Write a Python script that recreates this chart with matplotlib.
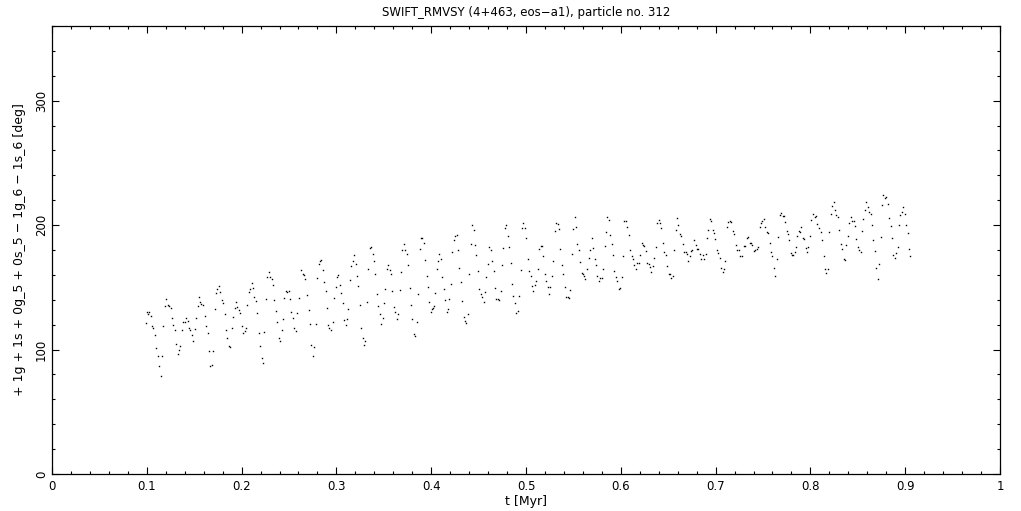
"""Resonant angle of a SWIFT_RMVSY test particle plotted against time."""

from __future__ import annotations

import matplotlib

matplotlib.use("Agg")

import matplotlib.pyplot as plt
from matplotlib.ticker import MultipleLocator


TITLE = "SWIFT_RMVSY (4+463, eos\u2212a1), particle no. 312"
X_LABEL = "t [Myr]"
Y_LABEL = "+ 1g + 1s + 0g_5 + 0s_5 \u2212 1g_6 \u2212 1s_6 [deg]"

# time samples [Myr]
t_myr = [
    0.0988, 0.0999, 0.1016, 0.1026, 0.1044, 0.1058, 0.1069, 0.1090, 0.1100, 0.1121,
    0.1132, 0.1153, 0.1164, 0.1174, 0.1195, 0.1206, 0.1227, 0.1237, 0.1258, 0.1269,
    0.1280, 0.1301, 0.1311, 0.1332, 0.1343, 0.1353, 0.1375, 0.1385, 0.1406, 0.1417,
    0.1438, 0.1448, 0.1459, 0.1480, 0.1491, 0.1512, 0.1522, 0.1543, 0.1554, 0.1564,
    0.1575, 0.1596, 0.1617, 0.1628, 0.1649, 0.1659, 0.1670, 0.1691, 0.1702, 0.1723,
    0.1733, 0.1744, 0.1765, 0.1775, 0.1796, 0.1807, 0.1828, 0.1839, 0.1849, 0.1870,
    0.1881, 0.1902, 0.1913, 0.1934, 0.1944, 0.1955, 0.1976, 0.1986, 0.2008, 0.2018,
    0.2039, 0.2050, 0.2060, 0.2081, 0.2092, 0.2113, 0.2123, 0.2134, 0.2155, 0.2166,
    0.2187, 0.2197, 0.2218, 0.2229, 0.2240, 0.2261, 0.2271, 0.2292, 0.2303, 0.2324,
    0.2334, 0.2345, 0.2366, 0.2377, 0.2398, 0.2408, 0.2429, 0.2440, 0.2451, 0.2472,
    0.2482, 0.2503, 0.2514, 0.2524, 0.2546, 0.2556, 0.2577, 0.2588, 0.2609, 0.2630,
    0.2651, 0.2662, 0.2672, 0.2693, 0.2714, 0.2725, 0.2735, 0.2756, 0.2767, 0.2788,
    0.2799, 0.2820, 0.2830, 0.2841, 0.2862, 0.2872, 0.2894, 0.2904, 0.2915, 0.2925,
    0.2946, 0.2967, 0.2978, 0.2999, 0.3010, 0.3020, 0.3041, 0.3052, 0.3073, 0.3083,
    0.3105, 0.3115, 0.3126, 0.3147, 0.3157, 0.3178, 0.3189, 0.3210, 0.3221, 0.3231,
    0.3252, 0.3263, 0.3284, 0.3294, 0.3305, 0.3326, 0.3337, 0.3358, 0.3368, 0.3389,
    0.3400, 0.3410, 0.3432, 0.3442, 0.3463, 0.3474, 0.3495, 0.3505, 0.3516, 0.3537,
    0.3548, 0.3569, 0.3579, 0.3590, 0.3611, 0.3621, 0.3642, 0.3653, 0.3674, 0.3685,
    0.3695, 0.3716, 0.3727, 0.3748, 0.3758, 0.3780, 0.3790, 0.3801, 0.3822, 0.3832,
    0.3853, 0.3864, 0.3885, 0.3896, 0.3906, 0.3927, 0.3938, 0.3959, 0.3970, 0.3980,
    0.4001, 0.4012, 0.4022, 0.4033, 0.4043, 0.4064, 0.4075, 0.4085, 0.4107, 0.4117,
    0.4138, 0.4149, 0.4170, 0.4180, 0.4191, 0.4212, 0.4223, 0.4244, 0.4254, 0.4275,
    0.4286, 0.4296, 0.4318, 0.4328, 0.4349, 0.4360, 0.4370, 0.4392, 0.4402, 0.4423,
    0.4434, 0.4455, 0.4465, 0.4476, 0.4497, 0.4507, 0.4529, 0.4539, 0.4560, 0.4571,
    0.4581, 0.4602, 0.4613, 0.4634, 0.4645, 0.4666, 0.4676, 0.4687, 0.4708, 0.4718,
    0.4740, 0.4750, 0.4761, 0.4782, 0.4792, 0.4813, 0.4824, 0.4845, 0.4856, 0.4866,
    0.4887, 0.4898, 0.4919, 0.4929, 0.4951, 0.4961, 0.4972, 0.4993, 0.5003, 0.5024,
    0.5035, 0.5056, 0.5067, 0.5077, 0.5098, 0.5109, 0.5130, 0.5141, 0.5162, 0.5172,
    0.5183, 0.5204, 0.5214, 0.5235, 0.5246, 0.5256, 0.5277, 0.5288, 0.5309, 0.5320,
    0.5341, 0.5351, 0.5362, 0.5383, 0.5394, 0.5415, 0.5425, 0.5446, 0.5457, 0.5467,
    0.5489, 0.5499, 0.5520, 0.5531, 0.5541, 0.5562, 0.5573, 0.5594, 0.5604, 0.5615,
    0.5626, 0.5647, 0.5668, 0.5678, 0.5699, 0.5710, 0.5731, 0.5742, 0.5752, 0.5773,
    0.5784, 0.5805, 0.5816, 0.5837, 0.5847, 0.5858, 0.5879, 0.5889, 0.5911, 0.5921,
    0.5932, 0.5953, 0.5963, 0.5984, 0.5995, 0.6016, 0.6027, 0.6037, 0.6058, 0.6069,
    0.6090, 0.6100, 0.6121, 0.6132, 0.6143, 0.6164, 0.6174, 0.6195, 0.6206, 0.6227,
    0.6237, 0.6248, 0.6269, 0.6280, 0.6301, 0.6311, 0.6322, 0.6343, 0.6353, 0.6375,
    0.6385, 0.6406, 0.6417, 0.6427, 0.6449, 0.6459, 0.6480, 0.6491, 0.6512, 0.6522,
    0.6533, 0.6554, 0.6565, 0.6586, 0.6596, 0.6607, 0.6628, 0.6638, 0.6660, 0.6670,
    0.6691, 0.6702, 0.6712, 0.6733, 0.6744, 0.6754, 0.6775, 0.6797, 0.6807, 0.6818,
    0.6839, 0.6849, 0.6870, 0.6881, 0.6902, 0.6913, 0.6923, 0.6944, 0.6955, 0.6976,
    0.6986, 0.6997, 0.7018, 0.7029, 0.7050, 0.7060, 0.7081, 0.7092, 0.7103, 0.7124,
    0.7134, 0.7155, 0.7166, 0.7187, 0.7197, 0.7218, 0.7229, 0.7250, 0.7261, 0.7282,
    0.7303, 0.7314, 0.7335, 0.7345, 0.7366, 0.7377, 0.7387, 0.7408, 0.7419, 0.7440,
    0.7451, 0.7472, 0.7482, 0.7493, 0.7514, 0.7524, 0.7545, 0.7556, 0.7577, 0.7588,
    0.7598, 0.7619, 0.7630, 0.7651, 0.7661, 0.7682, 0.7693, 0.7714, 0.7725, 0.7735,
    0.7756, 0.7767, 0.7778, 0.7799, 0.7809, 0.7820, 0.7841, 0.7851, 0.7862, 0.7883,
    0.7894, 0.7904, 0.7925, 0.7936, 0.7957, 0.7967, 0.7978, 0.7999, 0.8010, 0.8031,
    0.8052, 0.8062, 0.8073, 0.8094, 0.8115, 0.8126, 0.8147, 0.8157, 0.8168, 0.8189,
    0.8200, 0.8221, 0.8231, 0.8252, 0.8263, 0.8273, 0.8294, 0.8305, 0.8326, 0.8337,
    0.8358, 0.8368, 0.8379, 0.8400, 0.8410, 0.8432, 0.8442, 0.8463, 0.8474, 0.8484,
    0.8506, 0.8516, 0.8537, 0.8548, 0.8558, 0.8579, 0.8590, 0.8611, 0.8621, 0.8643,
    0.8653, 0.8664, 0.8685, 0.8695, 0.8716, 0.8727, 0.8748, 0.8758, 0.8769, 0.8790,
    0.8801, 0.8822, 0.8832, 0.8854, 0.8864, 0.8875, 0.8896, 0.8906, 0.8927, 0.8938,
    0.8948, 0.8970, 0.8980, 0.9001, 0.9012, 0.9033, 0.9043, 0.9054,
]

# resonant angle [deg]
angle_deg = [
    121.0, 129.8, 128.2, 130.4, 126.6, 118.8, 117.5, 111.9, 101.4, 94.9,
    86.9, 78.8, 94.9, 119.1, 135.2, 140.9, 136.0, 135.2, 133.6, 125.6,
    119.9, 115.9, 104.6, 96.5, 99.8, 103.0, 115.9, 122.3, 122.3, 125.6,
    123.1, 117.5, 115.9, 111.9, 107.0, 116.7, 125.6, 135.2, 142.5, 138.5,
    136.9, 136.0, 127.2, 119.1, 113.5, 99.0, 86.9, 87.7, 99.0, 132.8,
    145.7, 148.9, 151.4, 146.5, 140.1, 137.7, 128.8, 115.9, 109.4, 103.0,
    102.2, 117.5, 126.4, 133.6, 138.5, 134.4, 132.0, 129.6, 119.1, 113.5,
    115.1, 117.5, 136.0, 146.5, 148.9, 153.8, 149.8, 142.5, 139.3, 129.6,
    113.5, 103.0, 93.3, 89.3, 114.3, 140.9, 158.6, 162.7, 158.6, 157.0,
    152.2, 140.1, 131.2, 122.3, 109.4, 107.0, 115.9, 124.8, 141.7, 147.3,
    146.5, 147.3, 140.9, 130.4, 125.6, 117.5, 115.1, 129.6, 141.7, 164.3,
    161.0, 160.2, 157.0, 144.1, 132.0, 120.7, 103.8, 94.9, 102.2, 120.7,
    157.8, 169.1, 171.5, 172.3, 164.3, 154.6, 147.3, 133.6, 119.9, 117.5,
    115.9, 122.3, 141.7, 150.6, 158.6, 160.2, 152.2, 145.7, 137.7, 124.0,
    119.9, 124.8, 132.8, 156.2, 167.5, 171.5, 175.6, 169.1, 159.4, 151.4,
    136.0, 117.5, 109.4, 103.8, 107.0, 138.5, 165.1, 182.0, 182.8, 176.4,
    171.5, 161.0, 144.9, 135.2, 128.8, 120.7, 125.6, 137.7, 148.9, 165.1,
    168.3, 164.3, 161.0, 147.3, 134.4, 130.4, 124.8, 128.8, 148.1, 162.7,
    179.6, 185.2, 180.4, 176.4, 168.3, 149.8, 136.0, 124.8, 112.7, 111.0,
    122.3, 144.9, 181.2, 189.3, 189.3, 186.0, 172.3, 159.4, 150.6, 138.5,
    130.4, 132.8, 133.6, 135.2, 145.7, 165.1, 171.5, 176.4, 173.1, 158.6,
    148.9, 140.1, 130.4, 132.8, 140.9, 153.0, 178.0, 187.7, 190.9, 191.7,
    179.6, 165.9, 154.6, 139.3, 126.4, 123.1, 121.5, 128.8, 161.0, 185.2,
    199.8, 195.7, 184.4, 175.6, 163.5, 148.9, 144.9, 142.5, 138.5, 146.5,
    158.6, 169.1, 182.8, 180.4, 171.5, 163.5, 149.8, 140.9, 140.9, 140.1,
    147.3, 168.3, 182.0, 197.3, 199.8, 190.9, 182.8, 169.9, 153.0, 143.3,
    137.7, 129.6, 131.2, 143.3, 164.3, 197.3, 201.4, 197.3, 189.3, 173.1,
    163.5, 159.4, 151.4, 147.3, 152.2, 155.4, 165.1, 181.2, 183.6, 183.6,
    174.8, 161.0, 155.4, 150.6, 144.9, 150.6, 159.4, 171.5, 194.9, 201.4,
    200.6, 196.5, 181.2, 168.3, 161.0, 150.6, 142.5, 142.5, 141.7, 148.1,
    176.4, 196.5, 206.2, 198.1, 185.2, 179.6, 170.7, 161.9, 161.0, 159.4,
    157.0, 165.1, 173.9, 180.4, 189.3, 182.0, 173.1, 168.3, 159.4, 155.4,
    157.8, 157.8, 165.1, 183.6, 194.1, 206.2, 203.8, 191.7, 185.2, 175.6,
    163.5, 158.6, 155.4, 148.9, 149.8, 158.6, 174.8, 203.0, 203.0, 198.1,
    191.7, 180.4, 174.8, 173.1, 168.3, 165.1, 169.9, 169.9, 175.6, 186.0,
    184.4, 183.6, 178.8, 169.9, 169.1, 166.7, 162.7, 167.5, 173.9, 182.8,
    201.4, 203.8, 201.4, 197.3, 186.0, 178.0, 175.6, 167.5, 161.0, 161.0,
    157.8, 159.4, 180.4, 195.7, 205.4, 199.8, 192.5, 190.9, 185.2, 178.0,
    178.0, 176.4, 171.5, 174.8, 178.8, 180.4, 187.7, 184.4, 181.2, 181.2,
    176.4, 173.1, 175.6, 173.1, 176.4, 189.3, 195.7, 204.6, 203.0, 195.7,
    193.3, 188.5, 180.4, 177.2, 173.9, 165.9, 162.7, 165.1, 171.5, 198.1,
    202.2, 203.0, 202.2, 194.9, 192.5, 184.4, 179.6, 180.4, 174.8, 174.8,
    183.6, 183.6, 189.3, 190.1, 186.0, 186.0, 184.4, 178.8, 179.6, 181.2,
    182.8, 198.1, 201.4, 203.0, 204.6, 198.1, 194.1, 193.3, 186.0, 178.0,
    174.8, 165.9, 159.4, 173.1, 190.1, 207.8, 209.4, 207.0, 207.0, 202.2,
    194.9, 192.5, 187.7, 177.2, 175.6, 175.6, 178.0, 182.8, 190.9, 194.9,
    194.1, 198.1, 189.3, 188.5, 182.0, 178.0, 182.8, 190.9, 203.8, 208.6,
    206.2, 207.0, 200.6, 197.3, 194.1, 187.7, 174.8, 165.1, 161.9, 165.1,
    194.1, 208.6, 215.1, 218.3, 211.9, 207.8, 206.2, 195.7, 185.2, 181.2,
    173.1, 172.3, 184.4, 190.9, 201.4, 206.2, 203.0, 203.0, 198.9, 188.5,
    182.8, 179.6, 178.0, 194.9, 204.6, 211.9, 218.3, 214.3, 210.2, 208.6,
    199.8, 187.7, 178.8, 165.9, 157.0, 169.1, 190.1, 215.9, 223.9, 221.5,
    222.3, 216.7, 205.4, 198.9, 189.3, 175.6, 173.9, 177.2, 182.8, 199.8,
    207.8, 210.2, 214.3, 208.6, 199.8, 193.3, 181.2, 174.8,
]


def draw_resonant_angle(output_path: str = "out.png") -> str:
    """Draw the angle-vs-time dot plot in a PGPLOT-like frame."""
    plt.rcParams["font.family"] = ["DejaVu Sans"]
    fig = plt.figure(figsize=(10.21, 5.11), dpi=100)
    ax = fig.add_axes([52 / 1021, 1 - 474 / 511, 948 / 1021, 448 / 511])

    ax.plot(t_myr, angle_deg, linestyle="none", marker="s", markersize=1.0,
            markeredgewidth=0, color="black")

    ax.set_xlim(0, 1)
    ax.set_ylim(0, 360)
    ax.xaxis.set_major_locator(MultipleLocator(0.1))
    ax.xaxis.set_minor_locator(MultipleLocator(0.02))
    ax.yaxis.set_major_locator(MultipleLocator(100))
    ax.yaxis.set_minor_locator(MultipleLocator(20))
    ax.xaxis.set_major_formatter(plt.FuncFormatter(lambda v, _: f"{v:g}"))

    ax.tick_params(which="both", direction="in", top=True, right=True,
                   width=0.8, colors="black", labelsize=8.5)
    ax.tick_params(which="major", length=5)
    ax.tick_params(which="minor", length=2.5)
    ax.tick_params(axis="x", pad=4)
    ax.tick_params(axis="y", pad=3)
    for label in ax.get_yticklabels():
        label.set_rotation(90)
        label.set_va("center")
    for spine in ax.spines.values():
        spine.set_linewidth(0.9)

    ax.set_title(TITLE, fontsize=8.5, pad=7)
    ax.set_xlabel(X_LABEL, fontsize=9, labelpad=2)
    ax.set_ylabel(Y_LABEL, fontsize=9, labelpad=6)

    fig.savefig(output_path, dpi=100, facecolor="white")
    plt.close(fig)
    return output_path


if __name__ == "__main__":
    draw_resonant_angle()
